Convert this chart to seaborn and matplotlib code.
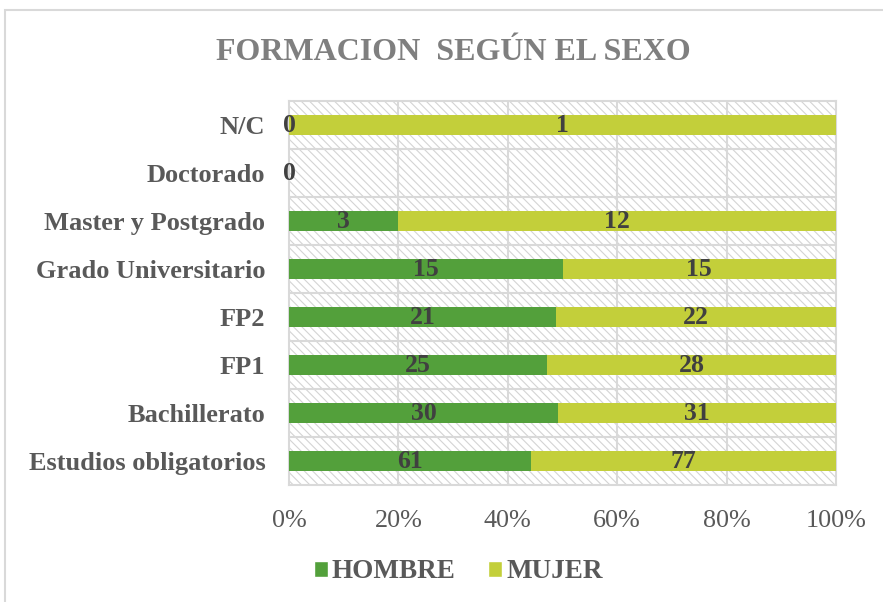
import matplotlib
matplotlib.use("Agg")
import matplotlib.pyplot as plt
from matplotlib.patches import Rectangle, Patch
import seaborn as sns
import pandas as pd
import numpy as np

categories = ["N/C", "Doctorado", "Master y Postgrado", "Grado Universitario",
              "FP2", "FP1", "Bachillerato", "Estudios obligatorios"]
hombre = [0, 0, 3, 15, 21, 25, 30, 61]
mujer = [1, 0, 12, 15, 22, 28, 31, 77]
xticklabels = ["0%", "20%", "40%", "60%", "80%", "100%"]

C_H = "#53A03B"
C_M = "#C3CF3A"
GRID = "#d9d9d9"

sns.set_theme(style="white")
plt.rcParams["font.family"] = ["Liberation Serif", "DejaVu Serif"]
plt.rcParams["hatch.color"] = "#d4d4d4"
plt.rcParams["hatch.linewidth"] = 0.8

h = np.array(hombre, float)
m = np.array(mujer, float)
tot = h + m
safe = np.where(tot > 0, tot, 1)
hp = h / safe * 100
mp = m / safe * 100
df = pd.DataFrame({"cat": categories, "h": hp, "cum": hp + mp})

fig = plt.figure(figsize=(8.83, 6.02), dpi=100)
ax = fig.add_axes([289 / 883, 1 - 485 / 602, (836 - 289) / 883, 384 / 602])

# hatched background
bg = Rectangle((0, 0), 1, 1, transform=ax.transAxes, facecolor="white",
               edgecolor="#d4d4d4", linewidth=0, hatch="\\\\\\\\", zorder=0)
ax.add_patch(bg)

sns.barplot(data=df, y="cat", x="cum", color=C_M, orient="h", width=0.42,
            ax=ax, saturation=1, linewidth=0, zorder=3)
sns.barplot(data=df, y="cat", x="h", color=C_H, orient="h", width=0.42,
            ax=ax, saturation=1, linewidth=0, zorder=4)

ax.set_xlim(0, 100)
ax.set_ylim(7.5, -0.5)
ax.set_xticks([0, 20, 40, 60, 80, 100])
ax.set_xticklabels(xticklabels, fontsize=18.8, color="#595959")
ax.set_yticks(range(len(categories)))
ax.set_yticklabels(categories, fontsize=19, fontweight="bold", color="#595959")
ax.set_xlabel("")
ax.set_ylabel("")
ax.tick_params(axis="both", length=0)
ax.tick_params(axis="y", pad=17)
ax.tick_params(axis="x", pad=18)

# grid lines
for xv in [20, 40, 60, 80]:
    ax.axvline(xv, color=GRID, lw=1.5, zorder=1)
for yv in np.arange(0.5, 7.5, 1):
    ax.axhline(yv, color=GRID, lw=1.5, zorder=1)
for s in ax.spines.values():
    s.set_color(GRID)
    s.set_linewidth(1.5)

# labels
for i in range(len(categories)):
    ax.text(hp[i] / 2, i, str(hombre[i]), ha="center", va="center",
            fontsize=18.5, fontweight="bold", color="#404040", zorder=6, clip_on=False)
    if tot[i] > 0:
        ax.text(hp[i] + mp[i] / 2, i, str(mujer[i]), ha="center", va="center",
                fontsize=18.5, fontweight="bold", color="#404040", zorder=6)

fig.text(0.513, 1 - 52 / 602, "FORMACION  SEGÚN EL SEXO", ha="center", va="center",
         fontsize=23, fontweight="bold", color="#7f7f7f")

handles = [Patch(facecolor=C_H, label="HOMBRE"), Patch(facecolor=C_M, label="MUJER")]
leg = fig.legend(handles=handles, loc="center", bbox_to_anchor=(0.519, 1 - 572 / 602),
                 ncol=2, frameon=False, handlelength=0.51, handleheight=0.51,
                 handletextpad=0.15, columnspacing=1.2,
                 prop={"family": "Liberation Serif", "weight": "bold", "size": 19.5})
for t in leg.get_texts():
    t.set_color("#595959")

frame = Rectangle((5 / 883, -0.1), 1.2, (602 - 10) / 602 + 0.1, transform=fig.transFigure,
                  fill=False, edgecolor=GRID, linewidth=1.5)
fig.patches.append(frame)

fig.savefig("out.png", dpi=100)
